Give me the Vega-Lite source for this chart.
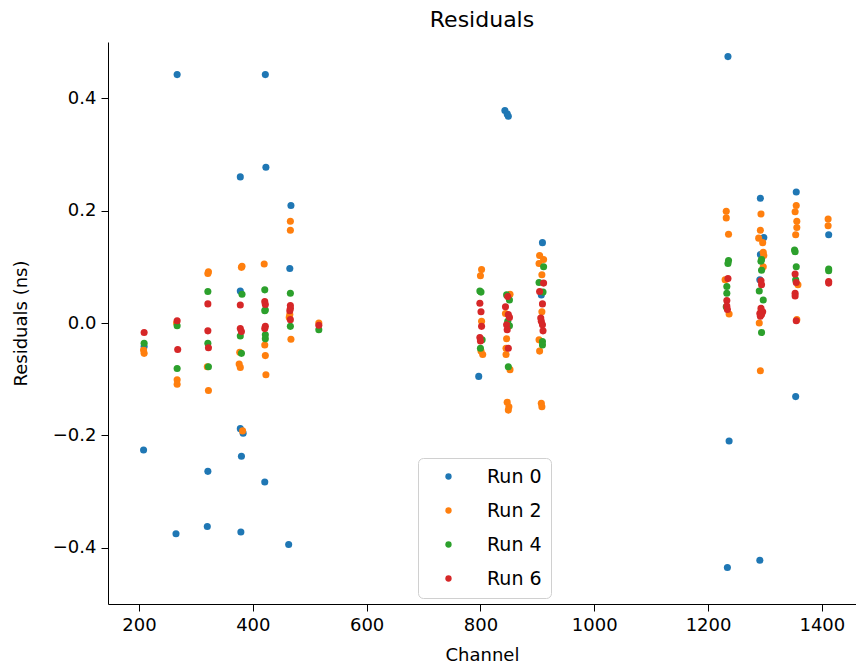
{
  "$schema": "https://vega.github.io/schema/vega-lite/v6.json",
  "width": 748,
  "height": 562,
  "autosize": {"type": "none"},
  "padding": {"left": 108, "top": 42, "right": 0, "bottom": 66},
  "background": "white",
  "config": {
    "view": {"stroke": null},
    "font": "DejaVu Sans",
    "axis": {"labelFont": "DejaVu Sans", "titleFont": "DejaVu Sans"},
    "legend": {"labelFont": "DejaVu Sans"}
  },
  "title": {"text": "Residuals", "fontSize": 22, "fontWeight": "normal", "font": "DejaVu Sans", "color": "#000", "offset": 10},
  "layer": [
    {
      "data": {"values": [
        {"ch": 209, "res": -0.042, "run": "Run 0"},
        {"ch": 208, "res": -0.226, "run": "Run 0"},
        {"ch": 267, "res": 0.442, "run": "Run 0"},
        {"ch": 265, "res": -0.375, "run": "Run 0"},
        {"ch": 321, "res": -0.264, "run": "Run 0"},
        {"ch": 320, "res": -0.362, "run": "Run 0"},
        {"ch": 378, "res": 0.26, "run": "Run 0"},
        {"ch": 378, "res": 0.057, "run": "Run 0"},
        {"ch": 378, "res": -0.188, "run": "Run 0"},
        {"ch": 383, "res": -0.196, "run": "Run 0"},
        {"ch": 380, "res": -0.237, "run": "Run 0"},
        {"ch": 379, "res": -0.372, "run": "Run 0"},
        {"ch": 422, "res": 0.442, "run": "Run 0"},
        {"ch": 423, "res": 0.277, "run": "Run 0"},
        {"ch": 421, "res": -0.283, "run": "Run 0"},
        {"ch": 467, "res": 0.209, "run": "Run 0"},
        {"ch": 465, "res": 0.097, "run": "Run 0"},
        {"ch": 463, "res": -0.394, "run": "Run 0"},
        {"ch": 797, "res": -0.095, "run": "Run 0"},
        {"ch": 843, "res": 0.378, "run": "Run 0"},
        {"ch": 847, "res": 0.372, "run": "Run 0"},
        {"ch": 849, "res": 0.368, "run": "Run 0"},
        {"ch": 909, "res": 0.143, "run": "Run 0"},
        {"ch": 907, "res": 0.05, "run": "Run 0"},
        {"ch": 1235, "res": 0.474, "run": "Run 0"},
        {"ch": 1237, "res": -0.21, "run": "Run 0"},
        {"ch": 1234, "res": -0.435, "run": "Run 0"},
        {"ch": 1292, "res": 0.222, "run": "Run 0"},
        {"ch": 1298, "res": 0.152, "run": "Run 0"},
        {"ch": 1292, "res": 0.122, "run": "Run 0"},
        {"ch": 1291, "res": 0.077, "run": "Run 0"},
        {"ch": 1291, "res": -0.422, "run": "Run 0"},
        {"ch": 1355, "res": 0.233, "run": "Run 0"},
        {"ch": 1354, "res": -0.131, "run": "Run 0"},
        {"ch": 1412, "res": 0.157, "run": "Run 0"},

        {"ch": 209, "res": -0.054, "run": "Run 2"},
        {"ch": 208, "res": -0.048, "run": "Run 2"},
        {"ch": 267, "res": -0.101, "run": "Run 2"},
        {"ch": 267, "res": -0.109, "run": "Run 2"},
        {"ch": 266, "res": 0.0, "run": "Run 2"},
        {"ch": 322, "res": 0.091, "run": "Run 2"},
        {"ch": 321, "res": 0.088, "run": "Run 2"},
        {"ch": 320, "res": -0.078, "run": "Run 2"},
        {"ch": 322, "res": -0.12, "run": "Run 2"},
        {"ch": 381, "res": 0.101, "run": "Run 2"},
        {"ch": 380, "res": 0.099, "run": "Run 2"},
        {"ch": 377, "res": -0.052, "run": "Run 2"},
        {"ch": 376, "res": -0.073, "run": "Run 2"},
        {"ch": 378, "res": -0.079, "run": "Run 2"},
        {"ch": 382, "res": -0.192, "run": "Run 2"},
        {"ch": 420, "res": 0.105, "run": "Run 2"},
        {"ch": 421, "res": -0.039, "run": "Run 2"},
        {"ch": 422, "res": -0.058, "run": "Run 2"},
        {"ch": 423, "res": -0.092, "run": "Run 2"},
        {"ch": 466, "res": 0.181, "run": "Run 2"},
        {"ch": 466, "res": 0.165, "run": "Run 2"},
        {"ch": 465, "res": 0.015, "run": "Run 2"},
        {"ch": 467, "res": -0.029, "run": "Run 2"},
        {"ch": 464, "res": 0.01, "run": "Run 2"},
        {"ch": 516, "res": 0.0, "run": "Run 2"},
        {"ch": 802, "res": 0.095, "run": "Run 2"},
        {"ch": 800, "res": 0.084, "run": "Run 2"},
        {"ch": 802, "res": 0.003, "run": "Run 2"},
        {"ch": 804, "res": -0.056, "run": "Run 2"},
        {"ch": 801, "res": -0.05, "run": "Run 2"},
        {"ch": 852, "res": 0.051, "run": "Run 2"},
        {"ch": 844, "res": 0.017, "run": "Run 2"},
        {"ch": 846, "res": -0.028, "run": "Run 2"},
        {"ch": 845, "res": -0.045, "run": "Run 2"},
        {"ch": 845, "res": -0.056, "run": "Run 2"},
        {"ch": 852, "res": -0.083, "run": "Run 2"},
        {"ch": 847, "res": -0.141, "run": "Run 2"},
        {"ch": 850, "res": -0.149, "run": "Run 2"},
        {"ch": 849, "res": -0.155, "run": "Run 2"},
        {"ch": 904, "res": 0.12, "run": "Run 2"},
        {"ch": 911, "res": 0.113, "run": "Run 2"},
        {"ch": 903, "res": 0.106, "run": "Run 2"},
        {"ch": 908, "res": 0.086, "run": "Run 2"},
        {"ch": 908, "res": 0.02, "run": "Run 2"},
        {"ch": 903, "res": -0.03, "run": "Run 2"},
        {"ch": 904, "res": -0.05, "run": "Run 2"},
        {"ch": 907, "res": -0.143, "run": "Run 2"},
        {"ch": 908, "res": -0.149, "run": "Run 2"},
        {"ch": 1232, "res": 0.199, "run": "Run 2"},
        {"ch": 1232, "res": 0.187, "run": "Run 2"},
        {"ch": 1236, "res": 0.158, "run": "Run 2"},
        {"ch": 1230, "res": 0.077, "run": "Run 2"},
        {"ch": 1237, "res": 0.016, "run": "Run 2"},
        {"ch": 1293, "res": 0.194, "run": "Run 2"},
        {"ch": 1292, "res": 0.165, "run": "Run 2"},
        {"ch": 1289, "res": 0.151, "run": "Run 2"},
        {"ch": 1296, "res": 0.143, "run": "Run 2"},
        {"ch": 1297, "res": 0.126, "run": "Run 2"},
        {"ch": 1298, "res": 0.12, "run": "Run 2"},
        {"ch": 1297, "res": 0.1, "run": "Run 2"},
        {"ch": 1290, "res": 0.0, "run": "Run 2"},
        {"ch": 1292, "res": -0.085, "run": "Run 2"},
        {"ch": 1293, "res": 0.02, "run": "Run 2"},
        {"ch": 1355, "res": 0.209, "run": "Run 2"},
        {"ch": 1353, "res": 0.198, "run": "Run 2"},
        {"ch": 1356, "res": 0.181, "run": "Run 2"},
        {"ch": 1356, "res": 0.17, "run": "Run 2"},
        {"ch": 1354, "res": 0.157, "run": "Run 2"},
        {"ch": 1358, "res": 0.068, "run": "Run 2"},
        {"ch": 1356, "res": 0.006, "run": "Run 2"},
        {"ch": 1411, "res": 0.185, "run": "Run 2"},
        {"ch": 1411, "res": 0.173, "run": "Run 2"},

        {"ch": 209, "res": -0.036, "run": "Run 4"},
        {"ch": 267, "res": -0.005, "run": "Run 4"},
        {"ch": 267, "res": -0.081, "run": "Run 4"},
        {"ch": 321, "res": 0.056, "run": "Run 4"},
        {"ch": 321, "res": -0.036, "run": "Run 4"},
        {"ch": 322, "res": -0.078, "run": "Run 4"},
        {"ch": 381, "res": 0.051, "run": "Run 4"},
        {"ch": 378, "res": -0.023, "run": "Run 4"},
        {"ch": 380, "res": -0.054, "run": "Run 4"},
        {"ch": 421, "res": 0.059, "run": "Run 4"},
        {"ch": 422, "res": 0.023, "run": "Run 4"},
        {"ch": 421, "res": 0.022, "run": "Run 4"},
        {"ch": 422, "res": -0.021, "run": "Run 4"},
        {"ch": 422, "res": -0.028, "run": "Run 4"},
        {"ch": 466, "res": 0.053, "run": "Run 4"},
        {"ch": 466, "res": -0.006, "run": "Run 4"},
        {"ch": 516, "res": -0.012, "run": "Run 4"},
        {"ch": 799, "res": 0.057, "run": "Run 4"},
        {"ch": 801, "res": 0.055, "run": "Run 4"},
        {"ch": 803, "res": -0.03, "run": "Run 4"},
        {"ch": 800, "res": -0.045, "run": "Run 4"},
        {"ch": 846, "res": 0.05, "run": "Run 4"},
        {"ch": 851, "res": 0.041, "run": "Run 4"},
        {"ch": 848, "res": 0.003, "run": "Run 4"},
        {"ch": 851, "res": -0.005, "run": "Run 4"},
        {"ch": 849, "res": -0.078, "run": "Run 4"},
        {"ch": 911, "res": 0.1, "run": "Run 4"},
        {"ch": 903, "res": 0.072, "run": "Run 4"},
        {"ch": 910, "res": 0.055, "run": "Run 4"},
        {"ch": 909, "res": -0.033, "run": "Run 4"},
        {"ch": 909, "res": -0.039, "run": "Run 4"},
        {"ch": 1236, "res": 0.111, "run": "Run 4"},
        {"ch": 1235, "res": 0.106, "run": "Run 4"},
        {"ch": 1233, "res": 0.065, "run": "Run 4"},
        {"ch": 1233, "res": 0.053, "run": "Run 4"},
        {"ch": 1232, "res": 0.029, "run": "Run 4"},
        {"ch": 1294, "res": 0.113, "run": "Run 4"},
        {"ch": 1293, "res": 0.11, "run": "Run 4"},
        {"ch": 1294, "res": 0.094, "run": "Run 4"},
        {"ch": 1290, "res": 0.057, "run": "Run 4"},
        {"ch": 1297, "res": 0.041, "run": "Run 4"},
        {"ch": 1294, "res": -0.017, "run": "Run 4"},
        {"ch": 1352, "res": 0.13, "run": "Run 4"},
        {"ch": 1353, "res": 0.127, "run": "Run 4"},
        {"ch": 1355, "res": 0.1, "run": "Run 4"},
        {"ch": 1354, "res": 0.077, "run": "Run 4"},
        {"ch": 1412, "res": 0.096, "run": "Run 4"},
        {"ch": 1412, "res": 0.093, "run": "Run 4"},

        {"ch": 209, "res": -0.017, "run": "Run 6"},
        {"ch": 267, "res": 0.004, "run": "Run 6"},
        {"ch": 268, "res": -0.047, "run": "Run 6"},
        {"ch": 321, "res": 0.034, "run": "Run 6"},
        {"ch": 321, "res": -0.014, "run": "Run 6"},
        {"ch": 322, "res": -0.044, "run": "Run 6"},
        {"ch": 378, "res": 0.032, "run": "Run 6"},
        {"ch": 378, "res": -0.01, "run": "Run 6"},
        {"ch": 380, "res": -0.015, "run": "Run 6"},
        {"ch": 421, "res": 0.038, "run": "Run 6"},
        {"ch": 422, "res": 0.033, "run": "Run 6"},
        {"ch": 422, "res": -0.006, "run": "Run 6"},
        {"ch": 421, "res": -0.01, "run": "Run 6"},
        {"ch": 466, "res": 0.031, "run": "Run 6"},
        {"ch": 466, "res": 0.026, "run": "Run 6"},
        {"ch": 465, "res": 0.022, "run": "Run 6"},
        {"ch": 466, "res": 0.006, "run": "Run 6"},
        {"ch": 516, "res": -0.004, "run": "Run 6"},
        {"ch": 799, "res": 0.035, "run": "Run 6"},
        {"ch": 801, "res": 0.02, "run": "Run 6"},
        {"ch": 802, "res": -0.006, "run": "Run 6"},
        {"ch": 799, "res": -0.026, "run": "Run 6"},
        {"ch": 800, "res": -0.032, "run": "Run 6"},
        {"ch": 848, "res": 0.047, "run": "Run 6"},
        {"ch": 844, "res": 0.029, "run": "Run 6"},
        {"ch": 849, "res": 0.015, "run": "Run 6"},
        {"ch": 851, "res": 0.01, "run": "Run 6"},
        {"ch": 846, "res": -0.003, "run": "Run 6"},
        {"ch": 847, "res": -0.012, "run": "Run 6"},
        {"ch": 849, "res": -0.045, "run": "Run 6"},
        {"ch": 911, "res": 0.071, "run": "Run 6"},
        {"ch": 904, "res": 0.056, "run": "Run 6"},
        {"ch": 909, "res": 0.034, "run": "Run 6"},
        {"ch": 906, "res": 0.009, "run": "Run 6"},
        {"ch": 907, "res": 0.003, "run": "Run 6"},
        {"ch": 909, "res": -0.003, "run": "Run 6"},
        {"ch": 910, "res": -0.014, "run": "Run 6"},
        {"ch": 1235, "res": 0.079, "run": "Run 6"},
        {"ch": 1233, "res": 0.04, "run": "Run 6"},
        {"ch": 1233, "res": 0.03, "run": "Run 6"},
        {"ch": 1234, "res": 0.024, "run": "Run 6"},
        {"ch": 1293, "res": 0.075, "run": "Run 6"},
        {"ch": 1294, "res": 0.068, "run": "Run 6"},
        {"ch": 1293, "res": 0.026, "run": "Run 6"},
        {"ch": 1296, "res": 0.02, "run": "Run 6"},
        {"ch": 1291, "res": 0.017, "run": "Run 6"},
        {"ch": 1294, "res": 0.015, "run": "Run 6"},
        {"ch": 1292, "res": 0.012, "run": "Run 6"},
        {"ch": 1353, "res": 0.087, "run": "Run 6"},
        {"ch": 1355, "res": 0.072, "run": "Run 6"},
        {"ch": 1353, "res": 0.053, "run": "Run 6"},
        {"ch": 1353, "res": 0.048, "run": "Run 6"},
        {"ch": 1355, "res": 0.004, "run": "Run 6"},
        {"ch": 1412, "res": 0.074, "run": "Run 6"},
        {"ch": 1412, "res": 0.071, "run": "Run 6"}
      ]},
      "mark": {"type": "point", "filled": true, "size": 50, "opacity": 1},
      "encoding": {
        "x": {
          "field": "ch", "type": "quantitative",
          "scale": {"domain": [145.5, 1460], "nice": false, "zero": false},
          "axis": {"title": "Channel", "values": [200, 400, 600, 800, 1000, 1200, 1400], "format": "d", "grid": false,
                   "domainColor": "black", "tickColor": "black", "tickSize": 7, "labelFontSize": 18, "titleFontSize": 18,
                   "titleFontWeight": "normal", "labelColor": "black", "titleColor": "black", "labelPadding": 5, "titlePadding": 12}
        },
        "y": {
          "field": "res", "type": "quantitative",
          "scale": {"domain": [-0.5, 0.5], "nice": false, "zero": false},
          "axis": {"title": "Residuals (ns)", "values": [-0.4, -0.2, 0, 0.2, 0.4], "format": ".1f", "grid": false,
                   "domainColor": "black", "tickColor": "black", "tickSize": 7, "labelFontSize": 18, "titleFontSize": 18,
                   "titleFontWeight": "normal", "labelColor": "black", "titleColor": "black", "labelPadding": 5, "titlePadding": 22}
        },
        "color": {
          "field": "run", "type": "nominal",
          "scale": {"domain": ["Run 0", "Run 2", "Run 4", "Run 6"], "range": ["#1f77b4", "#ff7f0e", "#2ca02c", "#d62728"]},
          "legend": {"title": null, "orient": "none", "legendX": 310, "legendY": 416,
                     "fillColor": "rgba(255,255,255,0.8)", "strokeColor": "#d0d0d0", "cornerRadius": 5,
                     "padding": 9, "labelFontSize": 19, "labelColor": "#000", "symbolType": "circle", "symbolSize": 40,
                     "symbolStrokeWidth": 0, "symbolOffset": 12, "labelOffset": 29, "rowPadding": 14}
        }
      }
    },
    {"mark": {"type": "rule", "color": "#1f77b4", "strokeWidth": 2.5}, "encoding": {"y": {"datum": 0}}},
    {"mark": {"type": "rule", "color": "black", "strokeWidth": 1}, "encoding": {"y": {"datum": 0.5}}}
  ]
}
